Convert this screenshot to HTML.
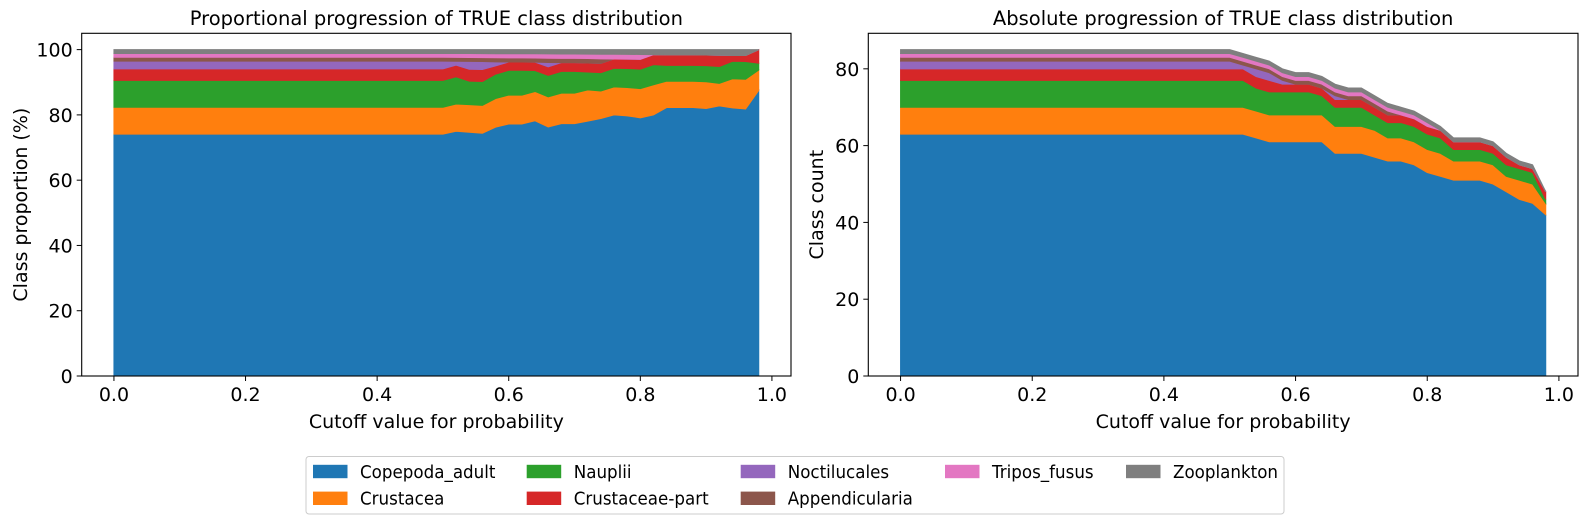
<!DOCTYPE html>
<html><head><meta charset="utf-8"><style>
body{margin:0;background:#fff}
svg text{font-family:"DejaVu Sans","Liberation Sans",sans-serif;fill:#000}
</style></head><body>
<svg id="fig" width="1589" height="524" viewBox="0 0 1589 524" xmlns="http://www.w3.org/2000/svg"></svg>
<script>
const cutoffs = Array.from({length:50},(_,i)=>+(i*0.02).toFixed(2));
const classNames = ["Copepoda_adult","Crustacea","Nauplii","Crustaceae-part","Noctilucales","Appendicularia","Tripos_fusus","Zooplankton"];
const classColors = ["#1f77b4","#ff7f0e","#2ca02c","#d62728","#9467bd","#8c564b","#e377c2","#7f7f7f"];
const rep=(v,n)=>Array(n).fill(v);
const copepoda = [...rep(63,25),63,63,62,61,61,61,61,61,58,58,58,57,56,56,55,53,52,51,51,51,50,48,46,45,42];
const crustacea = [...rep(7,25),7,7,7,7,7,7,7,7,7,7,7,7,6,6,6,6,6,5,5,5,5,4,5,5,3];
const nauplii = [...rep(7,25),7,7,6,6,6,6,6,5,5,5,5,4,4,4,4,4,4,3,3,3,3,3,3,3,1];
const crustPart = [...rep(3,25),3,3,3,3,2,2,2,2,2,2,2,2,2,2,2,2,2,2,2,2,2,2,1,1,2];
const noctilucales = [...rep(2,25),2,1,2,2,1,0,0,0,1,0,0,0,0,0,0,0,0,0,0,0,0,0,0,0,0];
const appendicularia = [...rep(1,25),1,1,1,1,1,1,1,1,1,1,1,1,1,0,0,0,0,0,0,0,0,0,0,0,0];
const triposFusus = [...rep(1,25),1,1,1,1,1,1,1,1,1,1,1,1,1,1,1,1,0,0,0,0,0,0,0,0,0];
const zooplankton = [...rep(1,25),1,1,1,1,1,1,1,1,1,1,1,1,1,1,1,1,1,1,1,1,1,1,1,1,0];
const series = [copepoda,crustacea,nauplii,crustPart,noctilucales,appendicularia,triposFusus,zooplankton];
const xTicks = [0,0.2,0.4,0.6,0.8,1.0];
const yTicksProp = [0,20,40,60,80,100];
const yTicksCount = [0,20,40,60,80];

const NS="http://www.w3.org/2000/svg";
const svg=document.getElementById('fig');
function mk(tag,attrs,parent){const e=document.createElementNS(NS,tag);for(const k in attrs)e.setAttribute(k,attrs[k]);(parent||svg).appendChild(e);return e;}

function drawPanel(cfg){
  const {L,R,T,B,ymax,yTicks,vals,title,ylabel,name,ylabX}=cfg;
  const g=mk('g',{});
  
  
  const xmin=-0.049,xmax=1.029;
  const X=v=>L+(v-xmin)/(xmax-xmin)*(R-L);
  const Y=v=>B-v/ymax*(B-T);
  let base=cutoffs.map(()=>0);
  vals.forEach((s,k)=>{
    const top=base.map((b,i)=>b+s[i]);
    let pts=cutoffs.map((c,i)=>X(c)+','+Y(top[i]));
    for(let i=cutoffs.length-1;i>=0;i--)pts.push(X(cutoffs[i])+','+Y(base[i]));
    const p=mk('polygon',{points:pts.join(' '),fill:classColors[k],stroke:classColors[k],'stroke-width':1},g);
    
    
    base=top;
  });
  mk('rect',{x:L,y:T,width:R-L,height:B-T,fill:'none',stroke:'#000','stroke-width':1.1},g);
  xTicks.forEach(t=>{
    mk('line',{x1:X(t),x2:X(t),y1:B,y2:B+5,stroke:'#000'},g);
    const tx=mk('text',{x:X(t),y:B+25,'text-anchor':'middle','font-size':19},g);
    tx.textContent=t.toFixed(1);
    
    
  });
  yTicks.forEach(t=>{
    mk('line',{x1:L-5,x2:L,y1:Y(t),y2:Y(t),stroke:'#000'},g);
    const tx=mk('text',{x:L-9,y:Y(t)+7,'text-anchor':'end','font-size':19},g);
    tx.textContent=t;
    
    
  });
  const ti=mk('text',{x:(L+R)/2,y:25,'text-anchor':'middle','font-size':19.5},g);
  ti.textContent=title;
  
  
  const xl=mk('text',{x:(L+R)/2,y:B+52,'text-anchor':'middle','font-size':19},g);
  xl.textContent='Cutoff value for probability';
  
  
  const yl=mk('text',{x:ylabX,y:(T+B)/2,'text-anchor':'middle','font-size':19,transform:`rotate(-90 ${ylabX} ${(T+B)/2})`},g);
  yl.textContent=ylabel;
  
  
}

const totals=cutoffs.map((_,i)=>series.reduce((a,s)=>a+s[i],0));
const props=series.map(s=>s.map((v,i)=>v/totals[i]*100));
drawPanel({L:81.7,R:791,T:33.3,B:376,ymax:105,yTicks:yTicksProp,vals:props,title:'Proportional progression of TRUE class distribution',ylabel:'Class proportion (%)',name:'proportion-chart',ylabX:27});
const maxTot=Math.max(...totals);
drawPanel({L:868.3,R:1578,T:33.3,B:376,ymax:maxTot*1.05,yTicks:yTicksCount,vals:series,title:'Absolute progression of TRUE class distribution',ylabel:'Class count',name:'count-chart',ylabX:823});

// legend (column-major, 5 columns: 2,2,2,1,1)
const lg=mk('g',{});


mk('rect',{x:306,y:456.5,width:978,height:57.5,rx:3,fill:'#fff',stroke:'#ccc'},lg);
const colX=[313,526.7,740.7,945,1126];
const slots=[[0,0],[0,1],[1,0],[1,1],[2,0],[2,1],[3,0],[4,0]];
classNames.forEach((n,k)=>{
  const [col,row]=slots[k];
  const cy=row?498.3:471.5;
  const e=mk('g',{},lg);
  
  
  mk('rect',{x:colX[col],y:cy-6.7,width:34.5,height:13.4,fill:classColors[k]},e);
  const tx=colX[col]+47;
  const t=mk('text',{x:0,y:0,'font-size':17.5,transform:`translate(${tx} ${cy+6.3}) scale(0.955 1)`},e);
  t.textContent=n;
});
</script>
</body></html>
